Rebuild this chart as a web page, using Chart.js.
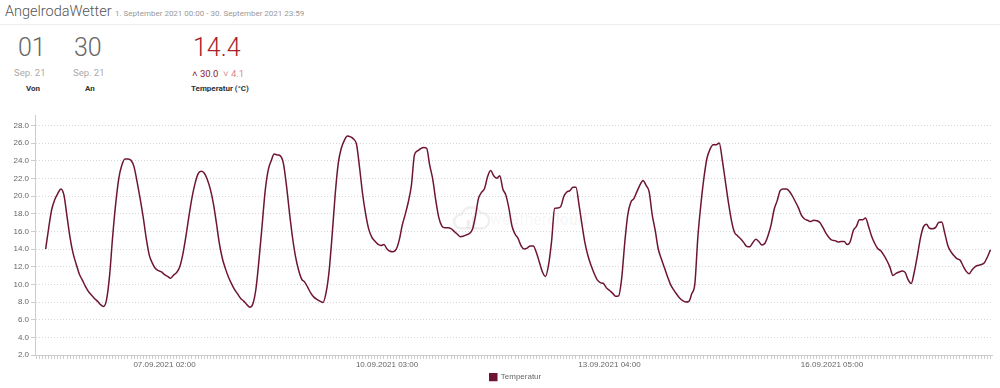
<!DOCTYPE html>
<html>
<head>
<meta charset="utf-8">
<script src="https://cdn.jsdelivr.net/npm/chart.js@4.4.1/dist/chart.umd.min.js"></script>
<style>
  html, body { margin:0; padding:0; background:#fff; }
  body { width:1000px; height:388px; position:relative; overflow:hidden; font-family: Roboto, "Liberation Sans", Arial, sans-serif; }
  .abs { position:absolute; white-space:nowrap; }
  #title { left:5px; top:3px; font-size:14.5px; font-weight:300; color:#555; }
  #range { left:115px; top:9px; font-size:8px; color:#999; }
  #sep { left:0; top:24px; width:1000px; height:1px; background:#eee; }
  .big { font-size:25px; font-weight:300; color:#666; top:33px; }
  .sub { font-size:9.5px; color:#aaa; top:67px; }
  .lab { font-size:8px; font-weight:bold; color:#333; top:84px; }
  #avg { color:#a8202a; left:193px; }
  #mx { left:192px; top:68px; font-size:9.5px; color:#8b1a2b; }
  #mn { left:223px; top:68px; font-size:9.5px; color:#d98a8f; }
  #wm { left:490px; top:210px; font-size:16px; color:rgba(0,0,0,0.055); }
  #wm b { font-weight:700; }
  #wmicon { left:452px; top:200px; }
  #cv { position:absolute; left:0; top:100px; }
</style>
</head>
<body>
<div id="title" class="abs">AngelrodaWetter</div>
<div id="range" class="abs">1. September 2021 00:00 - 30. September 2021 23:59</div>
<div id="sep" class="abs"></div>

<div class="abs big" style="left:18px">01</div>
<div class="abs sub" style="left:14px">Sep. 21</div>
<div class="abs lab" style="left:26px">Von</div>

<div class="abs big" style="left:74px">30</div>
<div class="abs sub" style="left:73px">Sep. 21</div>
<div class="abs lab" style="left:85px">An</div>

<div id="avg" class="abs big">14.4</div>
<div id="mx" class="abs">&#x2C4; 30.0</div>
<div id="mn" class="abs">&#x2C5; 4.1</div>
<div class="abs lab" style="left:191px">Temperatur (°C)</div>

<svg id="wmicon" class="abs" width="38" height="36" viewBox="0 0 44 40">
  <path d="M10 32 a8 8 0 0 1 1-16 a12 12 0 0 1 22-2 a9 9 0 0 1 2 18 z" fill="none" stroke="rgba(0,0,0,0.06)" stroke-width="3"/>
  <rect x="17" y="22" width="4" height="10" fill="rgba(0,0,0,0.06)"/>
  <rect x="23" y="18" width="4" height="14" fill="rgba(0,0,0,0.06)"/>
</svg>
<div id="wm" class="abs">weather<b>cloud</b></div>

<canvas id="cv" width="1000" height="291"></canvas>

<script>
// ---- data ----
const seriesName = 'Temperatur';
const startLabel = '05.09.2021 08:00'; // first hourly category
const categoryCount = 314;
const tickLabels = ['07.09.2021 02:00', '10.09.2021 03:00', '13.09.2021 04:00', '16.09.2021 05:00'];
const yTickValues = [2, 4, 6, 8, 10, 12, 14, 16, 18, 20, 22, 24, 26, 28];
const temperature = [null, null, null,
  14.0,16.4,18.5,19.6,20.3,20.8,20.1,17.7,15.3,13.5,
  12.3,11.2,10.5,9.8,9.2,8.8,8.4,8.1,7.7,7.5,
  8.3,11.1,15.5,19.2,22.0,23.5,24.2,24.2,24.05,23.3,
  21.6,19.7,17.6,15.2,13.3,12.4,11.8,11.55,11.4,11.1,
  10.9,10.7,11.05,11.35,12.0,13.4,15.4,17.7,19.8,21.4,
  22.5,22.8,22.6,21.9,20.8,19.2,17.0,14.6,12.9,11.75,
  10.8,10.05,9.4,8.9,8.4,8.1,7.7,7.4,7.8,9.5,
  12.8,16.6,20.5,22.9,24.0,24.75,24.65,24.55,23.7,21.2,
  18.1,15.3,13.1,11.6,10.6,10.25,9.65,9.0,8.55,8.3,
  8.1,7.95,9.05,11.5,15.6,20.2,23.7,25.4,26.3,26.8,
  26.7,26.45,25.85,23.2,20.2,17.95,16.25,15.35,14.9,14.55,
  14.4,14.5,14.0,13.75,13.7,13.95,15.0,16.7,17.95,19.35,
  21.2,24.65,25.1,25.35,25.5,25.4,23.5,21.9,19.5,17.55,
  16.6,16.4,16.4,16.3,16.0,15.7,15.4,15.45,15.6,15.75,
  16.2,17.7,19.7,20.4,20.85,22.2,22.9,22.3,22.0,22.3,
  20.8,20.1,18.6,16.6,15.7,15.2,14.35,14.0,14.1,14.35,
  14.35,13.6,12.5,11.4,10.9,12.2,14.9,18.6,18.65,18.8,
  19.95,20.45,20.6,21.0,21.0,19.0,16.7,14.6,13.15,12.1,
  11.2,10.5,10.2,10.1,9.6,9.3,9.0,8.65,8.7,10.7,
  14.7,17.9,19.3,19.7,20.5,21.25,21.75,21.2,20.5,17.9,
  16.1,14.0,12.9,11.9,10.9,10.0,9.4,8.9,8.45,8.15,
  8.0,8.05,8.95,10.05,15.4,19.1,22.1,24.3,25.3,25.8,
  25.8,26.0,24.1,21.7,19.3,17.25,15.9,15.5,15.15,14.75,
  14.3,14.25,14.7,15.1,14.85,14.45,14.65,15.5,16.7,18.45,
  19.45,20.6,20.8,20.8,20.55,20.0,19.35,18.65,17.8,17.4,
  17.25,17.1,17.25,17.2,17.0,16.45,15.8,15.3,15.0,14.95,
  14.8,14.85,14.85,14.5,14.85,16.1,16.55,17.3,17.3,17.5,
  16.55,15.45,14.65,14.05,13.8,13.3,12.7,11.95,11.0,11.25,
  11.4,11.5,11.35,10.5,10.1,11.4,13.2,15.2,16.5,16.8,
  16.35,16.3,16.45,17.0,17.05,15.8,14.4,13.7,13.25,12.9,
  12.75,12.1,11.5,11.2,11.65,12.0,12.15,12.25,12.45,13.1,
  13.9
];

// ---- hourly category labels ----
function pad(n){ return String(n).padStart(2,'0'); }
function buildLabels(start, count){
  const m = start.match(/(\d+)\.(\d+)\.(\d+) (\d+):(\d+)/);
  const t0 = Date.UTC(+m[3], +m[2]-1, +m[1], +m[4], +m[5]);
  const out = [];
  for (let i = 0; i < count; i++) {
    const d = new Date(t0 + i*3600000);
    out.push(pad(d.getUTCDate())+'.'+pad(d.getUTCMonth()+1)+'.'+d.getUTCFullYear()+' '+pad(d.getUTCHours())+':'+pad(d.getUTCMinutes()));
  }
  return out;
}
const categories = buildLabels(startLabel, categoryCount);

const lineColor = '#6e1436';
const axisFont = { family: '"Liberation Sans", Arial, sans-serif', size: 8 };

// centre the legend under the plot area (not the full canvas)
const legendShift = {
  id: 'legendShift',
  afterLayout(chart) {
    const lg = chart.legend, ca = chart.chartArea;
    if (!lg) return;
    const d = (ca.left + ca.right) / 2 - (lg.left + lg.right) / 2 + 2;
    lg.left += d; lg.right += d;
  }
};

new Chart(document.getElementById('cv'), {
  type: 'line',
  data: {
    labels: categories,
    datasets: [{
      label: seriesName,
      data: temperature,
      borderColor: lineColor,
      backgroundColor: lineColor,
      borderWidth: 1.5,
      pointRadius: 0,
      pointHoverRadius: 0,
      cubicInterpolationMode: 'monotone',
      fill: false,
      spanGaps: false
    }]
  },
  plugins: [legendShift],
  options: {
    responsive: false,
    animation: false,
    devicePixelRatio: 1,
    layout: { padding: { top: 15, left: 12, right: 8, bottom: 0 } },
    plugins: {
      tooltip: { enabled: false },
      legend: {
        position: 'bottom',
        labels: {
          boxWidth: 7, boxHeight: 7, padding: 0,
          color: '#666', font: axisFont
        }
      }
    },
    scales: {
      x: {
        type: 'category',
        offset: true,
        border: { display: true, color: '#ccc', width: 1 },
        grid: { drawOnChartArea: false, drawTicks: true, tickLength: 4, color: '#ccc' },
        ticks: {
          autoSkip: false, maxRotation: 0, minRotation: 0, padding: 1,
          color: '#666', font: axisFont,
          callback: function(v, i) { const l = categories[i]; return tickLabels.includes(l) ? l : ''; }
        },
        afterFit: function(s){ s.height = 18; }
      },
      y: {
        min: 2, max: 29.17,
        border: { display: true, color: '#ccc', width: 1, dash: [1, 2] },
        grid: { color: '#d6d6d6', drawTicks: true, tickLength: 4, tickColor: '#ccc', tickBorderDash: [] },
        ticks: { color: '#666', font: axisFont, padding: 2, callback: v => Number(v).toFixed(1) },
        afterBuildTicks: function(s){ s.ticks = yTickValues.map(v => ({ value: v })); },
        afterFit: function(s){ s.width = 23; }
      }
    }
  }
});
</script>
</body>
</html>
